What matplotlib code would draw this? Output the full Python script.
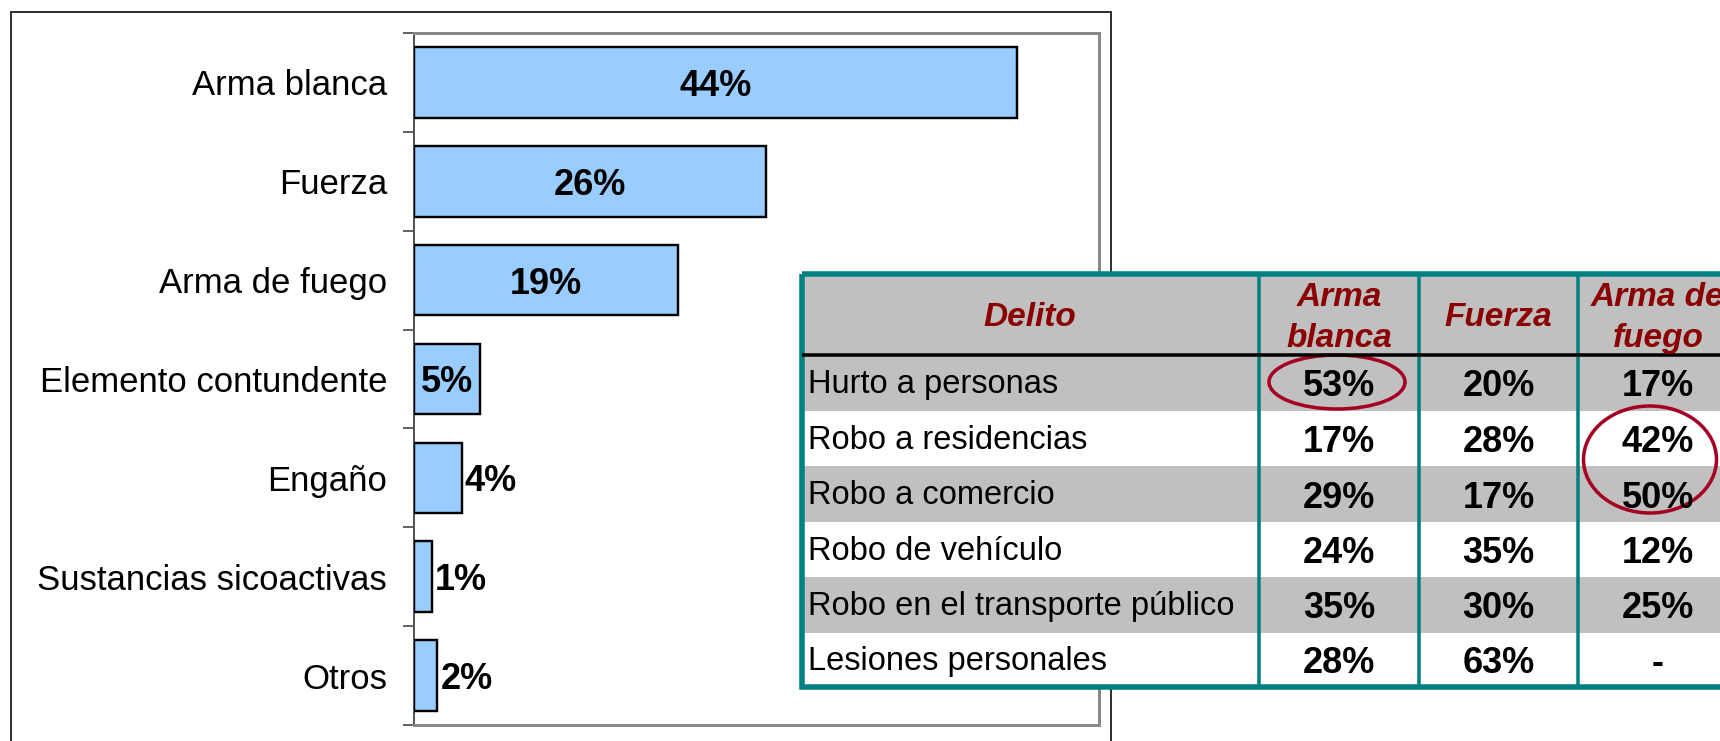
import matplotlib
matplotlib.use("Agg")
import matplotlib.pyplot as plt
from matplotlib.patches import Rectangle, Ellipse
import numpy as np

plt.rcParams['font.family'] = ['Liberation Sans', 'DejaVu Sans']

# ---------------- data ----------------
categories = ["Arma blanca", "Fuerza", "Arma de fuego", "Elemento contundente",
              "Engaño", "Sustancias sicoactivas", "Otros"]
shares = [44.0, 25.7, 19.3, 4.8, 3.5, 1.3, 1.7]
share_labels = ["44%", "26%", "19%", "5%", "4%", "1%", "2%"]

table_header = ["Delito", "Arma\nblanca", "Fuerza", "Arma de\nfuego"]
delitos = ["Hurto a personas", "Robo a residencias", "Robo a comercio",
           "Robo de vehículo", "Robo en el transporte público", "Lesiones personales"]
pct_arma_blanca = [53, 17, 29, 24, 35, 28]
pct_fuerza = [20, 28, 17, 35, 30, 63]
pct_arma_fuego = [17, 42, 50, 12, 25, None]

# ---------------- figure ----------------
W, H = 1720, 741
fig = plt.figure(figsize=(W / 100, H / 100), dpi=100)
fig.patch.set_facecolor('white')
PX = 72 / 100  # points per pixel


def px_rect(x0, y0, x1, y1):
    return [x0 / W, 1 - y1 / H, (x1 - x0) / W, (y1 - y0) / H]


# outer chart frame (behind everything)
fig.add_artist(Rectangle((10.5 / W, -0.05), (1111 - 10.5) / W, 1 - 12 / H + 0.05,
                         transform=fig.transFigure, fill=False,
                         edgecolor='#333333', linewidth=2 * PX, zorder=-5))

# ---------------- bar chart ----------------
ax = fig.add_axes(px_rect(414, 33, 1099, 725))
ax.set_zorder(1)
n = len(categories)
y = np.arange(n)
ax.barh(y, shares, height=0.714, color='#99CCFF', edgecolor='black',
        linewidth=2.4 * PX, zorder=3)
ax.set_xlim(0, 50)
ax.set_ylim(n - 0.5, -0.5)
ax.set_yticks(y, categories, fontsize=25)
ax.tick_params(axis='y', which='major', length=0, pad=27 * PX)
ax.set_yticks(np.arange(n + 1) - 0.5, minor=True)
ax.tick_params(axis='y', which='minor', length=11 * PX, width=2 * PX, color='#666666')
ax.set_xticks([])
for s in ['top', 'right', 'bottom']:
    ax.spines[s].set_color('#888888')
    ax.spines[s].set_linewidth(3 * PX)
ax.spines['left'].set_color('#555555')
ax.spines['left'].set_linewidth(2 * PX)

for i, (v, lab) in enumerate(zip(shares, share_labels)):
    if v >= 4.5:
        ax.text(v / 2, i, lab, ha='center', va='center_baseline',
                fontsize=26, fontweight='bold', zorder=4)
    else:
        ax.annotate(lab, (v, i), xytext=(3 * PX, 0), textcoords='offset points',
                    ha='left', va='center_baseline', fontsize=26,
                    fontweight='bold', zorder=4)

# ---------------- table ----------------
tax = fig.add_axes(px_rect(796, 266, 1740, 695))
tax.set_zorder(2)
tax.set_xlim(796, 1740)
tax.set_ylim(695, 266)
tax.axis('off')

col_edges = [801.5, 1259, 1419, 1578, 1738]
row_edges = [274.5, 355, 411, 466, 522, 577, 633, 686.5]
teal = '#008080'

# backgrounds
tax.add_patch(Rectangle((col_edges[0], row_edges[0]), col_edges[-1] - col_edges[0],
                        row_edges[1] - row_edges[0], facecolor='#C0C0C0', edgecolor='none'))
for r in range(len(delitos)):
    fc = '#C0C0C0' if r % 2 == 0 else 'white'
    tax.add_patch(Rectangle((col_edges[0], row_edges[r + 1]), col_edges[-1] - col_edges[0],
                            row_edges[r + 2] - row_edges[r + 1], facecolor=fc, edgecolor='none'))

# grid lines
for xe in col_edges[1:-1]:
    tax.plot([xe, xe], [row_edges[0], row_edges[-1]], color=teal, lw=3.5 * PX,
             solid_capstyle='butt')
tax.plot([col_edges[0], col_edges[-1]], [row_edges[1], row_edges[1]], color='black',
         lw=3.5 * PX, solid_capstyle='butt')
tax.add_patch(Rectangle((col_edges[0], row_edges[0]), col_edges[-1] - col_edges[0],
                        row_edges[-1] - row_edges[0], fill=False, edgecolor=teal,
                        linewidth=5.5 * PX))

# header text
hdr_center = (row_edges[0] + row_edges[1]) / 2
for c, txt in enumerate(table_header):
    xc = (col_edges[c] + col_edges[c + 1]) / 2
    lines = txt.split('\n')
    for k, line in enumerate(lines):
        yb = hdr_center + 11.5 + (k - (len(lines) - 1) / 2) * 41
        tax.text(xc, yb, line, ha='center', va='baseline', fontsize=24,
                 fontweight='bold', fontstyle='italic', color='#8B0000')

# body text
columns = [pct_arma_blanca, pct_fuerza, pct_arma_fuego]
for r, name in enumerate(delitos):
    yc = (row_edges[r + 1] + row_edges[r + 2]) / 2
    tax.text(808, yc + 10.5, name, ha='left', va='baseline', fontsize=23.5)
    for c, col in enumerate(columns):
        v = col[r]
        s = '-' if v is None else f"{v}%"
        xc = (col_edges[c + 1] + col_edges[c + 2]) / 2
        tax.text(xc, yc + 13.5, s, ha='center', va='baseline', fontsize=26,
                 fontweight='bold')

# highlight ellipses
tax.add_patch(Ellipse((1337, 382), 136, 54, fill=False, edgecolor='#A50021',
                      linewidth=3.5 * PX))
tax.add_patch(Ellipse((1650, 459.5), 133, 107, fill=False, edgecolor='#A50021',
                      linewidth=3.5 * PX))

fig.savefig('out.png', dpi=100)
